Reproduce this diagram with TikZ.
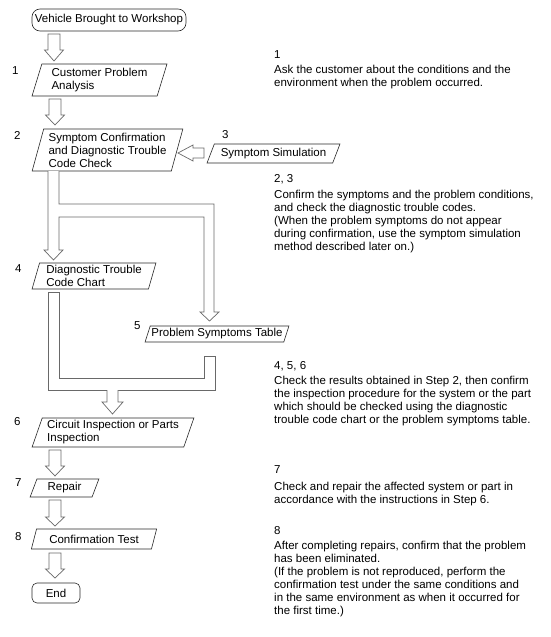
\documentclass[tikz,border=0pt]{standalone}
\usepackage{fontspec}
\setmainfont{Liberation Sans}
\usetikzlibrary{shapes.geometric}
\definecolor{arrowgray}{RGB}{105,105,105}
\definecolor{boxline}{RGB}{40,40,40}
\newcommand\downblk[4]{%
  \draw[blk] ({#1-6},#2) -- ({#1-6},#3) -- ({#1-9.5},#3) -- (#1,#4) -- ({#1+9.5},#3) -- ({#1+6},#3) -- ({#1+6},#2) -- cycle;}
\begin{document}
\begin{tikzpicture}[x=1pt,y=-1pt,
  every node/.style={font=\fontsize{11.5}{13}\selectfont},
  para/.style={draw=boxline, line width=0.6pt, trapezium, trapezium stretches=true, align=left, inner sep=0pt},
  term/.style={draw=boxline, line width=0.6pt, inner sep=0pt},
  blk/.style={draw=arrowgray, line width=0.7pt, fill=white, line join=miter},
  num/.style={anchor=base west, inner sep=0pt},
  desc/.style={anchor=north west, inner sep=0pt, align=left}
]
\useasboundingbox[fill=white] (0,0) rectangle (551,637);

% terminals
\node[term, minimum width=154pt, minimum height=22pt, rounded corners=8pt] (start) at (109,20) {Vehicle Brought to Workshop};
\node[term, minimum width=48pt, minimum height=20pt, rounded corners=5pt] (end) at (56,593) {End};

% process boxes
\node[para, minimum width=135pt, minimum height=32pt, trapezium left angle=71, trapezium right angle=109] (b1) at (99.5,80) {Customer Problem\\Analysis};
\node[para, minimum width=151pt, minimum height=42pt, trapezium left angle=72.8, trapezium right angle=107.2] (b2) at (107.5,150) {Symptom Confirmation\\and Diagnostic Trouble\\Code Check};
\node[para, minimum width=133pt, minimum height=19pt, trapezium left angle=58.8, trapezium right angle=121.2] (b3) at (273.5,153.5) {Symptom Simulation};
\node[para, minimum width=124pt, minimum height=26pt, trapezium left angle=73, trapezium right angle=107] (b4) at (94,276) {Diagnostic Trouble\\Code Chart};
\node[para, minimum width=144pt, minimum height=16pt, trapezium left angle=64.9, trapezium right angle=115.1] (b5) at (217,334) {Problem Symptoms Table};
\node[para, minimum width=162pt, minimum height=29pt, trapezium left angle=68.4, trapezium right angle=111.6] (b6) at (113,432.5) {Circuit Inspection or Parts\\Inspection};
\node[para, minimum width=69pt, minimum height=18pt, trapezium left angle=68.7, trapezium right angle=111.3] (b7) at (64.5,488) {Repair};
\node[para, minimum width=126pt, minimum height=20pt, trapezium left angle=64.6, trapezium right angle=115.4] (b8) at (94,539) {Confirmation Test};

% step numbers
\node[num] (n1) at (12,74) {1};
\node[num] (n2) at (14,139) {2};
\node[num] (n3) at (222,138) {3};
\node[num] (n4) at (15,272) {4};
\node[num] (n5) at (134,329) {5};
\node[num] (n6) at (14,425) {6};
\node[num] (n7) at (15,486) {7};
\node[num] (n8) at (15,540) {8};

% block arrows
\downblk{54}{34}{50}{61}
\downblk{55}{99}{115}{125}
\downblk{55}{450}{466}{476}
\downblk{55}{500}{517}{526}
\downblk{55}{553}{569}{578}
\draw[blk] (204,148) -- (193,148) -- (193,145) -- (178,153) -- (193,161) -- (193,158) -- (204,158) -- cycle;
\draw[blk] (48,171) -- (48,250) -- (44,250) -- (53.5,260) -- (63,250) -- (59,250) -- (59,217) -- (204,217) -- (204,312) -- (200,312) -- (209.5,321) -- (219,312) -- (214,312) -- (214,204) -- (59,204) -- (59,171);
\draw[blk] (48,292) -- (48,390) -- (215,390) -- (215,356) -- (204,356) -- (204,378) -- (59,378) -- (59,292) -- cycle;
\draw[blk] (107,390) -- (107,402) -- (102,402) -- (112.5,414) -- (123,402) -- (118,402) -- (118,390);

% descriptions
\node[num] (t1) at (274,58) {1};
\node[desc] (d1) at (274,65) {Ask the customer about the conditions and the\\environment when the problem occurred.};
\node[num] (t23) at (274,182) {2, 3};
\node[desc] (d23) at (274,190) {Confirm the symptoms and the problem conditions,\\and check the diagnostic trouble codes.\\(When the problem symptoms do not appear\\during confirmation, use the symptom simulation\\method described later on.)};
\node[num] (t456) at (274,369) {4, 5, 6};
\node[desc] (d456) at (274,376) {Check the results obtained in Step 2, then confirm\\the inspection procedure for the system or the part\\which should be checked using the diagnostic\\trouble code chart or the problem symptoms table.};
\node[num] (t7) at (274,473) {7};
\node[desc] (d7) at (274,482) {Check and repair the affected system or part in\\accordance with the instructions in Step 6.};
\node[num] (t8) at (274,534) {8};
\node[desc] (d8) at (274,541) {After completing repairs, confirm that the problem\\has been eliminated.\\(If the problem is not reproduced, perform the\\confirmation test under the same conditions and\\in the same environment as when it occurred for\\the first time.)};
\end{tikzpicture}
\end{document}
